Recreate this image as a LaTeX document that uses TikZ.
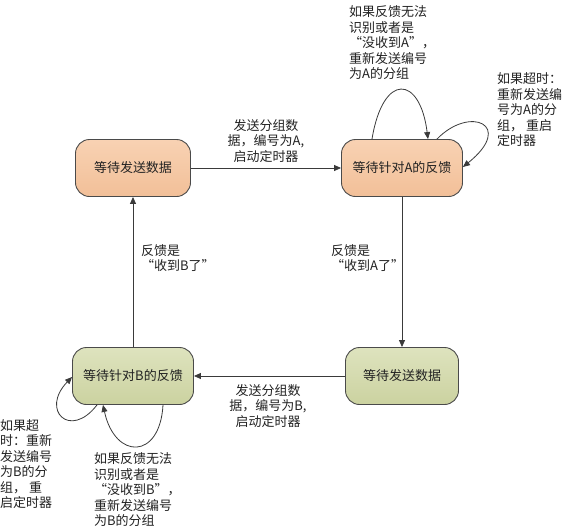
\documentclass[tikz,border=0pt]{standalone}
\usepackage{fontspec}
\newfontfamily\cjk{Noto Sans CJK SC}
\usetikzlibrary{arrows.meta,calc}
\definecolor{ortop}{HTML}{F8D2B3}
\definecolor{orbot}{HTML}{F2BF98}
\definecolor{grtop}{HTML}{DEE3BE}
\definecolor{grbot}{HTML}{CBD2A0}
\definecolor{bordc}{HTML}{4A4A4A}
\definecolor{linec}{HTML}{3A3A3A}
\definecolor{txtc}{HTML}{222222}
\begin{document}
\begin{tikzpicture}[x=1pt,y=-1pt,
  state/.style={draw=bordc, line width=0.9pt, rounded corners=14pt,
    font=\cjk\fontsize{13}{15.5}\selectfont, text=txtc, minimum height=57pt},
  orst/.style={state, top color=ortop, bottom color=orbot},
  grst/.style={state, top color=grtop, bottom color=grbot},
  lbl/.style={font=\cjk\fontsize{13}{15.5}\selectfont, text=txtc, inner sep=0pt},
  conn/.style={draw=linec, line width=0.8pt, -{Triangle[length=7pt,width=6pt]}}
]
\useasboundingbox (0,0) rectangle (566,531);

\node[orst, minimum width=115pt] (n1) at (133,168) {等待发送数据};
\node[orst, minimum width=121pt] (n2) at (402,168) {等待针对A的反馈};
\node[grst, minimum width=113pt] (n3) at (402,376) {等待发送数据};
\node[grst, minimum width=121pt] (n4) at (133,376) {等待针对B的反馈};

\draw[conn] (n1.east) -- (n2.west);
\draw[conn] (n2.south) -- (n3.north);
\draw[conn] (n3.west) -- (n4.east);
\draw[conn] (n4.north) -- (n1.south);

% self loops of n2
\draw[conn] ($(n2.north)+(-30,0)$) .. controls (383,72) and (420,75) .. ($(n2.north)+(26,0)$);
\draw[conn] ($(n2.north)+(35,0)$) .. controls (470,105) and (515,125) .. ($(n2.east)+(0,-1)$);
% self loops of n4
\draw[conn] ($(n4.south)+(-36,0)$) .. controls (70,440) and (40,410) .. ($(n4.west)+(0,1)$);
\draw[conn] ($(n4.south)+(30,0)$) .. controls (160,460) and (115,460) .. ($(n4.south)+(-30,0)$);

% labels
\node[lbl, align=center] (la) at (266,141) {发送分组数\\据，编号为A,\\启动定时器};
\node[lbl, align=left, anchor=west] (lb) at (331,258) {反馈是\\“收到A了”};
\node[lbl, align=center] (lc) at (268,406) {发送分组数\\据，编号为B,\\启动定时器};
\node[lbl, align=left, anchor=west] (ld) at (141,258) {反馈是\\“收到B了”};

\node[lbl, align=left, anchor=west] (le) at (349,43) {如果反馈无法\\识别或者是\\“没收到A”，\\重新发送编号\\为A的分组};
\node[lbl, align=left, anchor=west] (lf) at (497,110) {如果超时：\\重新发送编\\号为A的分\\组， 重启\\定时器};
\node[lbl, align=left, anchor=west] (lg) at (0,464) {如果超\\时：重新\\发送编号\\为B的分\\组， 重\\启定时器};
\node[lbl, align=left, anchor=west] (lh) at (94,490) {如果反馈无法\\识别或者是\\“没收到B”，\\重新发送编号\\为B的分组};
\end{tikzpicture}
\end{document}
